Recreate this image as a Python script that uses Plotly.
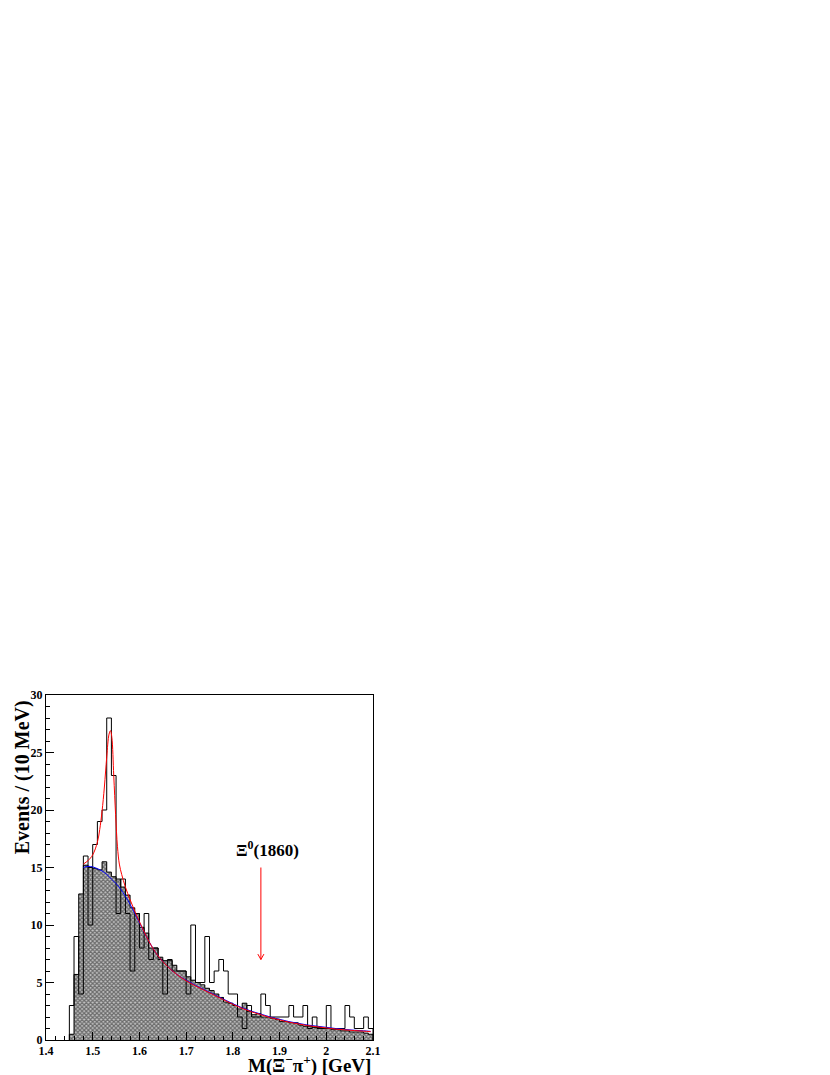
import plotly.graph_objects as go

# ---------------- data ----------------
bin_lo = [1.45, 1.46, 1.47, 1.48, 1.49, 1.50, 1.51, 1.52, 1.53, 1.54,
          1.55, 1.56, 1.57, 1.58, 1.59, 1.60, 1.61, 1.62, 1.63, 1.64,
          1.65, 1.66, 1.67, 1.68, 1.69, 1.70, 1.71, 1.72, 1.73, 1.74,
          1.75, 1.76, 1.77, 1.78, 1.79, 1.80, 1.81, 1.82, 1.83, 1.84,
          1.85, 1.86, 1.87, 1.88, 1.89, 1.90, 1.91, 1.92, 1.93, 1.94,
          1.95, 1.96, 1.97, 1.98, 1.99, 2.00, 2.01, 2.02, 2.03, 2.04,
          2.05, 2.06, 2.07, 2.08, 2.09]
bin_width = 0.01

data_counts = [3, 9, 4, 16, 10, 17, 19, 20, 28, 23,
               11, 14, 11, 6, 11, 8, 11, 7, 8, 7,
               4, 7, 6, 6, 6, 4, 10, 5, 5, 9,
               5, 6, 7, 6, 4, 4, 2, 1, 3, 2,
               2, 4, 3, 2, 2, 2, 2, 3, 2, 2,
               3, 1, 2, 1, 1, 3, 1, 1, 1, 3,
               2, 1, 1, 2, 1]

bkg_counts = [0.5, 5.7, 12.7, 15.2, 15.0, 14.9, 14.8, 15.5, 14.6, 14.2,
              14.0, 13.3, 12.6, 11.5, 11.0, 9.8, 9.3, 8.0, 8.0, 7.2,
              6.9, 6.9, 6.5, 6.0, 6.0, 5.5, 5.2, 5.0, 4.8, 4.5,
              4.3, 4.0, 3.7, 3.3, 3.2, 3.0, 2.7, 3.2, 2.5, 2.2,
              2.3, 2.0, 2.0, 1.9, 1.8, 1.6, 1.6, 1.5, 1.5, 1.3,
              1.2, 1.2, 1.1, 1.1, 1.0, 1.0, 0.9, 0.9, 0.8, 0.8,
              0.7, 0.7, 0.7, 0.6, 0.5]

bkg_fit_x = [1.48, 1.49, 1.50, 1.51, 1.52, 1.53, 1.54, 1.55, 1.56, 1.57,
             1.58, 1.59, 1.60, 1.62, 1.64, 1.66, 1.68, 1.70, 1.72, 1.74,
             1.76, 1.78, 1.80, 1.82, 1.84, 1.86, 1.88, 1.90, 1.92, 1.94,
             1.96, 1.98, 2.00, 2.02, 2.04, 2.06, 2.08, 2.095]
bkg_fit_y = [15.0, 15.1, 15.05, 14.9, 14.7, 14.4, 14.0, 13.6, 13.1, 12.5,
             11.8, 11.0, 10.2, 8.6, 7.3, 6.4, 5.7, 5.2, 4.75, 4.35,
             3.95, 3.55, 3.15, 2.8, 2.5, 2.25, 2.0, 1.8, 1.6, 1.45,
             1.3, 1.2, 1.1, 1.0, 0.92, 0.85, 0.8, 0.75]

tot_fit_x = [1.48, 1.49, 1.50, 1.51, 1.515, 1.52, 1.525, 1.53, 1.535, 1.538,
             1.541, 1.545, 1.549, 1.553, 1.557, 1.562, 1.57, 1.58, 1.59, 1.60,
             1.62, 1.64, 1.66, 1.68, 1.70, 1.72, 1.74, 1.76, 1.78, 1.80,
             1.82, 1.84, 1.86, 1.88, 1.90, 1.92, 1.94, 1.96, 1.98, 2.00,
             2.02, 2.04, 2.06, 2.08, 2.095]
tot_fit_y = [15.3, 15.6, 16.1, 17.2, 18.3, 19.9, 22.0, 24.6, 26.6, 26.9,
             26.3, 23.0, 19.6, 16.8, 15.3, 14.4, 13.3, 12.2, 11.2, 10.3,
             8.6, 7.3, 6.4, 5.7, 5.15, 4.7, 4.3, 3.9, 3.5, 3.1,
             2.75, 2.45, 2.2, 1.95, 1.75, 1.55, 1.4, 1.25, 1.15, 1.05,
             0.95, 0.88, 0.82, 0.77, 0.72]

y_ticks = [0, 5, 10, 15, 20, 25, 30]
x_ticks = [1.4, 1.5, 1.6, 1.7, 1.8, 1.9, 2.0, 2.1]
x_tick_text = ["1.4", "1.5", "1.6", "1.7", "1.8", "1.9", "2", "2.1"]

arrow_x = 1.86
arrow_top = 15.0
arrow_tip = 7.0

# ---------------- build step outlines ----------------
def step_outline(lo, vals, w):
    xs, ys = [lo[0]], [0]
    for b, v in zip(lo, vals):
        xs += [b, b + w]
        ys += [v, v]
    xs.append(lo[-1] + w)
    ys.append(0)
    return xs, ys

dx, dy = step_outline(bin_lo, data_counts, bin_width)
bx, by = step_outline(bin_lo, bkg_counts, bin_width)
centers = [b + bin_width / 2 for b in bin_lo]

FONT = "Liberation Serif"

fig = go.Figure()
fig.add_trace(go.Bar(
    x=centers, y=bkg_counts, width=bin_width,
    marker=dict(color="white", line=dict(width=0),
                pattern=dict(shape="x", size=3, solidity=0.65,
                             fgcolor="#111111", bgcolor="#c4c4c4")),
    showlegend=False, hoverinfo="skip"))
fig.add_trace(go.Scatter(x=bx, y=by, mode="lines",
                         line=dict(color="black", width=1),
                         showlegend=False, hoverinfo="skip"))
fig.add_trace(go.Scatter(x=dx, y=dy, mode="lines",
                         line=dict(color="black", width=1),
                         showlegend=False, hoverinfo="skip"))
fig.add_trace(go.Scatter(x=bkg_fit_x, y=bkg_fit_y, mode="lines",
                         line=dict(color="blue", width=1, shape="spline"),
                         showlegend=False))
fig.add_trace(go.Scatter(x=tot_fit_x, y=tot_fit_y, mode="lines",
                         line=dict(color="red", width=1, shape="spline"),
                         showlegend=False))

# arrow for Xi0(1860)
fig.add_shape(type="line", x0=arrow_x, x1=arrow_x, y0=arrow_top, y1=arrow_tip,
              line=dict(color="red", width=1))
fig.add_shape(type="line", x0=arrow_x - 0.0065, x1=arrow_x, y0=arrow_tip + 0.47, y1=arrow_tip,
              line=dict(color="red", width=1))
fig.add_shape(type="line", x0=arrow_x + 0.0065, x1=arrow_x, y0=arrow_tip + 0.47, y1=arrow_tip,
              line=dict(color="red", width=1))

fig.add_annotation(x=1.875, y=16.6, xref="x", yref="y",
                   text="<b>Ξ<sup>0</sup>(1860)</b>", showarrow=False,
                   font=dict(family=FONT, size=17, color="black"))

fig.add_annotation(x=1.0, y=-0.071, xref="paper", yref="paper",
                   xanchor="right", yanchor="middle",
                   text="<b>M(Ξ<sup>−</sup>π<sup>+</sup>) [GeV]</b>", showarrow=False,
                   font=dict(family=FONT, size=19, color="black"))

fig.add_annotation(x=-0.072, y=0.763, xref="paper", yref="paper",
                   xanchor="center", yanchor="middle", textangle=-90,
                   text="<b>Events / (10 MeV)</b>", showarrow=False,
                   font=dict(family=FONT, size=20, color="black"))

axis_common = dict(showgrid=False, zeroline=False, showline=True, linecolor="black",
                   linewidth=1, mirror=True, ticks="inside", tickcolor="black",
                   tickfont=dict(family=FONT, size=12, color="black"))

# the page body has an 8 px margin, so the margins are shifted to match
fig.update_layout(
    width=830, height=1075,
    margin=dict(l=37.5, r=465.3, t=686.7, b=43),
    paper_bgcolor="white", plot_bgcolor="white",
    bargap=0, showlegend=False,
    xaxis=dict(range=[1.4, 2.1], tickvals=x_ticks,
               ticktext=["<b>%s</b>" % t for t in x_tick_text],
               ticklen=8, tickwidth=1,
               minor=dict(dtick=0.02, ticklen=4, tickcolor="black", ticks="inside"),
               **axis_common),
    yaxis=dict(range=[0, 30], tickvals=y_ticks,
               ticktext=["<b>%d</b>" % t for t in y_ticks],
               ticklen=8, tickwidth=1,
               minor=dict(dtick=1, ticklen=4, tickcolor="black", ticks="inside"),
               **axis_common),
)

fig.write_html("out.html")
